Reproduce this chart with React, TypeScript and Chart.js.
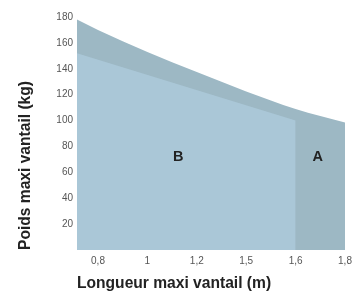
import React, { useEffect, useRef } from "react";
import { Chart, registerables } from "chart.js";

Chart.register(...registerables);

// Zone A (outer limit curve)
const zoneAX = [0.715, 0.8, 1.0, 1.2, 1.4, 1.6, 1.8];
const zoneAY = [178, 170, 153, 137.5, 122.5, 109, 98.5];
// Zone B (inner straight limit, stops at 1.6 m)
const zoneBX = [0.715, 1.6];
const zoneBY = [152, 100];

const xTickValues = [0.8, 1.0, 1.2, 1.4, 1.6, 1.8];
const xTickLabels = ["0,8", "1", "1,2", "1,5", "1,6", "1,8"];
const yTickValues = [20, 40, 60, 80, 100, 120, 140, 160, 180];

const zoneLabels = ["B", "A"];
const zoneLabelX = [1.125, 1.69];
const zoneLabelY = [72, 72];

const FONT = "'Liberation Sans', Arial, Helvetica, sans-serif";

export default function App() {
  const ref = useRef<HTMLCanvasElement | null>(null);
  useEffect(() => {
    document.body.style.margin = "0";
    const labelPlugin = {
      id: "zoneLabels",
      afterDatasetsDraw(chart: any) {
        const { ctx, scales } = chart;
        ctx.save();
        ctx.font = `bold 14.5px ${FONT}`;
        ctx.fillStyle = "#222";
        ctx.textAlign = "center";
        ctx.textBaseline = "middle";
        zoneLabels.forEach((t, i) => {
          ctx.fillText(t, scales.x.getPixelForValue(zoneLabelX[i]), scales.y.getPixelForValue(zoneLabelY[i]));
        });
        ctx.restore();
      },
    };
    const chart = new Chart(ref.current!, {
      type: "line",
      data: {
        datasets: [
          {
            label: "B",
            data: zoneBX.map((x, i) => ({ x, y: zoneBY[i] })),
            backgroundColor: "#aac7d7",
            borderWidth: 0,
            pointRadius: 0,
            fill: "origin",
          },
          {
            label: "A",
            data: zoneAX.map((x, i) => ({ x, y: zoneAY[i] })),
            backgroundColor: "#9db8c4",
            borderWidth: 0,
            pointRadius: 0,
            fill: "origin",
            cubicInterpolationMode: "monotone",
          },
        ],
      },
      options: {
        animation: false,
        responsive: true,
        maintainAspectRatio: false,
        layout: { padding: { top: 17, right: 16, left: 0, bottom: 0 } },
        plugins: { legend: { display: false }, tooltip: { enabled: false } },
        scales: {
          x: {
            type: "linear",
            min: 0.715,
            max: 1.8,
            grid: { display: false, drawTicks: false },
            border: { display: false },
            afterBuildTicks: (s: any) => {
              s.ticks = xTickValues.map((v) => ({ value: v }));
            },
            afterFit: (s: any) => {
              s.height = 41;
            },
            ticks: {
              padding: 5,
              color: "#555",
              font: { family: FONT, size: 10 },
              maxRotation: 0,
              autoSkip: false,
              callback: (_v: any, i: number) => xTickLabels[i],
            },
            title: {
              display: true,
              text: "Longueur maxi vantail (m)",
              align: "start",
              color: "#222",
              font: { family: FONT, size: 15.6, weight: "bold", lineHeight: 1 },
              padding: { top: 0, bottom: 0 },
            },
          },
          y: {
            min: 0,
            max: 180,
            grid: { display: false, drawTicks: false },
            border: { display: false },
            afterBuildTicks: (s: any) => {
              s.ticks = yTickValues.map((v) => ({ value: v }));
            },
            afterFit: (s: any) => {
              s.width = 77;
            },
            ticks: {
              padding: 4,
              color: "#555",
              font: { family: FONT, size: 10 },
              autoSkip: false,
            },
            title: {
              display: true,
              text: "Poids maxi vantail (kg)",
              align: "start",
              color: "#222",
              font: { family: FONT, size: 15.6, weight: "bold", lineHeight: 1 },
              padding: { top: 18, bottom: 0 },
            },
          },
        },
      },
      plugins: [labelPlugin],
    } as any);
    return () => chart.destroy();
  }, []);
  return (
    <div style={{ width: 361, height: 291, position: "relative" }}>
      <canvas ref={ref} />
    </div>
  );
}
